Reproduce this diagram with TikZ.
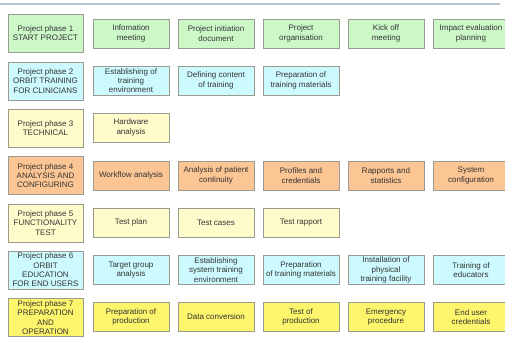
\documentclass[tikz,border=0pt]{standalone}
\usepackage{fontspec}
\setmainfont{Liberation Sans}
\definecolor{cgreen}{HTML}{CCF8C8}
\definecolor{ccyan}{HTML}{CCFAFF}
\definecolor{clyel}{HTML}{FFFCCC}
\definecolor{corange}{HTML}{FBC594}
\definecolor{cyel}{HTML}{FDF56C}
\definecolor{cborder}{HTML}{9A9A90}
\definecolor{ctext}{HTML}{333333}
\definecolor{cline}{HTML}{B9C4CC}
\tikzset{
  base/.style={draw=cborder, line width=0.9pt, align=center, inner sep=0pt,
    text=ctext, font=\fontsize{8}{9.3}\selectfont},
  phasebox/.style={base, minimum width=75pt, minimum height=38pt},
  taskbox/.style={base, minimum width=76pt, minimum height=29pt},
  fgreen/.style={fill=cgreen}, fcyan/.style={fill=ccyan}, flyel/.style={fill=clyel},
  forange/.style={fill=corange}, fyel/.style={fill=cyel}
}
\begin{document}
\begin{tikzpicture}[x=1pt,y=-1pt]
\useasboundingbox (0,0) rectangle (505,337);
\coordinate (l1) at (0,4);
\coordinate (l2) at (500,4);
\draw[cline, line width=2pt] (l1) -- (l2);
% row 1
\node[phasebox,fgreen] (p1) at (45.5,33) {Project phase 1\\START PROJECT};
\node[taskbox,fgreen] (t11) at (131,33.5) {Infomation\\meeting};
\node[taskbox,fgreen] (t12) at (216,33.5) {Project initiation\\document};
\node[taskbox,fgreen] (t13) at (301,33.5) {Project\\organisation};
\node[taskbox,fgreen] (t14) at (386,33.5) {Kick off\\meeting};
\node[taskbox,fgreen] (t15) at (471,33.5) {Impact evaluation\\planning};
% row 2
\node[phasebox,fcyan] (p2) at (45.5,81) {Project phase 2\\ORBIT TRAINING\\FOR CLINICIANS};
\node[taskbox,fcyan] (t21) at (131,80.5) {Establishing of\\training\\environment};
\node[taskbox,fcyan] (t22) at (216,80.5) {Defining content\\of training};
\node[taskbox,fcyan] (t23) at (301,80.5) {Preparation of\\training materials};
% row 3
\node[phasebox,flyel] (p3) at (45.5,128) {Project phase 3\\TECHNICAL};
\node[taskbox,flyel] (t31) at (131,127.5) {Hardware\\analysis};
% row 4
\node[phasebox,forange] (p4) at (45.5,175.5) {Project phase 4\\ANALYSIS AND\\CONFIGURING};
\node[taskbox,forange] (t41) at (131,175.5) {Workflow analysis};
\node[taskbox,forange] (t42) at (216,175.5) {Analysis of patient\\continuity};
\node[taskbox,forange] (t43) at (301,175.5) {Profiles and\\credentials};
\node[taskbox,forange] (t44) at (386,175.5) {Rapports and\\statistics};
\node[taskbox,forange] (t45) at (471,175.5) {System\\configuration};
% row 5
\node[phasebox,flyel] (p5) at (45.5,223) {Project phase 5\\FUNCTIONALITY\\TEST};
\node[taskbox,flyel] (t51) at (131,222.5) {Test plan};
\node[taskbox,flyel] (t52) at (216,222.5) {Test cases};
\node[taskbox,flyel] (t53) at (301,222.5) {Test rapport};
% row 6
\node[phasebox,fcyan] (p6) at (45.5,270) {Project phase 6\\ORBIT\\EDUCATION\\FOR END USERS};
\node[taskbox,fcyan] (t61) at (131,270) {Target group\\analysis};
\node[taskbox,fcyan] (t62) at (216,270) {Establishing\\system training\\environment};
\node[taskbox,fcyan] (t63) at (301,270) {Preparation\\of training materials};
\node[taskbox,fcyan] (t64) at (386,270) {Installation of\\physical\\training facility};
\node[taskbox,fcyan] (t65) at (471,270) {Training of\\educators};
% row 7
\node[phasebox,fyel] (p7) at (45.5,317.5) {Project phase 7\\PREPARATION\\AND\\OPERATION};
\node[taskbox,fyel] (t71) at (131,317) {Preparation of\\production};
\node[taskbox,fyel] (t72) at (216,317) {Data conversion};
\node[taskbox,fyel] (t73) at (301,317) {Test of\\production};
\node[taskbox,fyel] (t74) at (386,317) {Emergency\\procedure};
\node[taskbox,fyel] (t75) at (471,317) {End user\\credentials};
\end{tikzpicture}
\end{document}
